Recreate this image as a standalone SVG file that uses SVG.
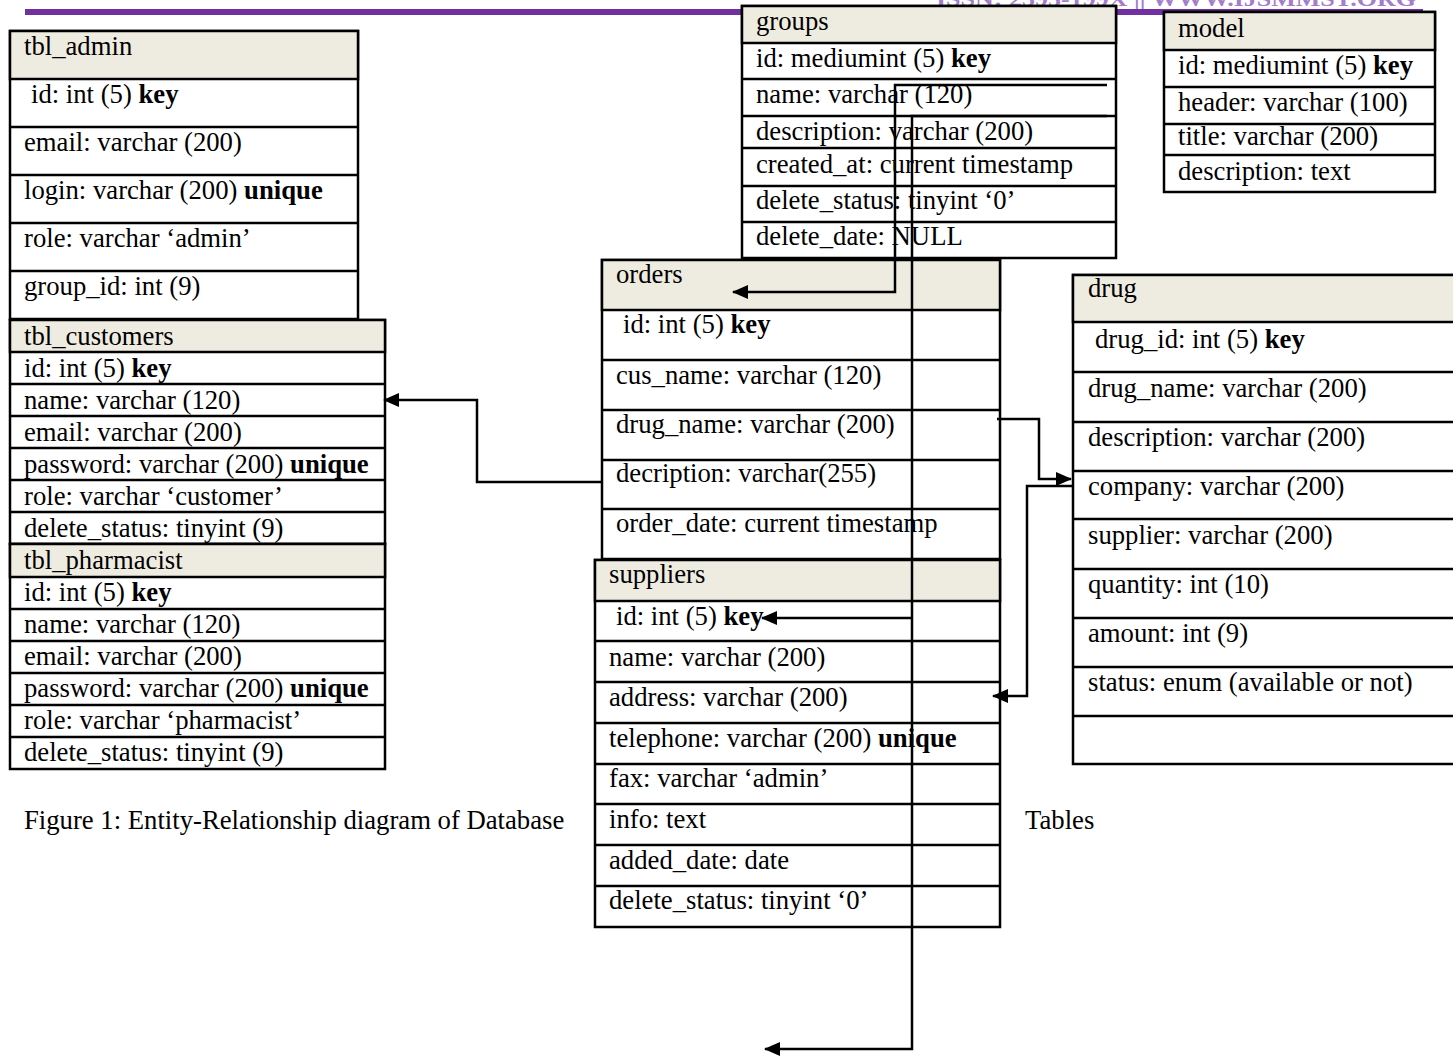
<svg xmlns="http://www.w3.org/2000/svg" width="1453" height="1056" viewBox="0 0 1453 1056">
<style>
.t{font-family:"Liberation Serif","Times New Roman",serif;font-size:26.7px;fill:#000}
.hd{fill:#EEECE1;stroke:#000;stroke-width:2.5}
.bx{fill:#fff;stroke:#000;stroke-width:2.5}
.sep{stroke:#000;stroke-width:2.5}
.cn{fill:none;stroke:#000;stroke-width:2.5}
.b{font-weight:bold}
</style>
<defs>
<marker id="ah" markerUnits="userSpaceOnUse" markerWidth="16" markerHeight="14" refX="15" refY="7" orient="auto">
<path d="M0,0 L16,7 L0,14 Z" fill="#000"/>
</marker>
</defs>
<rect width="1453" height="1056" fill="#fff"/>
<g id="page-header">
<text x="936" y="6" font-family="Liberation Serif,serif" font-size="20" font-weight="bold" fill="#A47DCB" textLength="480" lengthAdjust="spacingAndGlyphs">ISSN: 2395-199X || WWW.IJSMMST.ORG</text>
<rect x="25" y="9" width="1398" height="6" fill="#7030A0"/>
</g>

<g id="tbl_admin">
<rect class="bx" x="10" y="31" width="348" height="288"/>
<rect class="hd" x="10" y="31" width="348" height="48"/>
<path class="sep" d="M10,127H358M10,175H358M10,223H358M10,271H358"/>
<text class="t" x="24" y="55">tbl_admin</text>
<text class="t" x="31" y="103">id: int (5) <tspan class="b">key</tspan></text>
<text class="t" x="24" y="151">email: varchar (200)</text>
<text class="t" x="24" y="199">login: varchar (200) <tspan class="b">unique</tspan></text>
<text class="t" x="24" y="247">role: varchar ‘admin’</text>
<text class="t" x="24" y="295">group_id: int (9)</text>
</g>

<g id="tbl_customers">
<rect class="bx" x="10" y="320" width="375" height="224"/>
<rect class="hd" x="10" y="320" width="375" height="32"/>
<path class="sep" d="M10,384H385M10,416H385M10,448H385M10,480H385M10,512H385"/>
<text class="t" x="24" y="345">tbl_customers</text>
<text class="t" x="24" y="377">id: int (5) <tspan class="b">key</tspan></text>
<text class="t" x="24" y="409">name: varchar (120)</text>
<text class="t" x="24" y="441">email: varchar (200)</text>
<text class="t" x="24" y="473">password: varchar (200) <tspan class="b">unique</tspan></text>
<text class="t" x="24" y="505">role: varchar ‘customer’</text>
<text class="t" x="24" y="537">delete_status: tinyint (9)</text>
</g>

<g id="tbl_pharmacist">
<rect class="bx" x="10" y="544" width="375" height="225"/>
<rect class="hd" x="10" y="544" width="375" height="33"/>
<path class="sep" d="M10,609H385M10,641H385M10,673H385M10,705H385M10,737H385"/>
<text class="t" x="24" y="569">tbl_pharmacist</text>
<text class="t" x="24" y="601">id: int (5) <tspan class="b">key</tspan></text>
<text class="t" x="24" y="633">name: varchar (120)</text>
<text class="t" x="24" y="665">email: varchar (200)</text>
<text class="t" x="24" y="697">password: varchar (200) <tspan class="b">unique</tspan></text>
<text class="t" x="24" y="729">role: varchar ‘pharmacist’</text>
<text class="t" x="24" y="761">delete_status: tinyint (9)</text>
</g>

<g id="groups">
<rect class="bx" x="742" y="6" width="374" height="252"/>
<rect class="hd" x="742" y="6" width="374" height="37"/>
<path class="sep" d="M742,79H1116M742,116H1116M742,148H1116M742,186H1116M742,222H1116"/>
<text class="t" x="756" y="30">groups</text>
<text class="t" x="756" y="67">id: mediumint (5) <tspan class="b">key</tspan></text>
<text class="t" x="756" y="103">name: varchar (120)</text>
<text class="t" x="756" y="140">description: varchar (200)</text>
<text class="t" x="756" y="173">created_at: current timestamp</text>
<text class="t" x="756" y="209">delete_status: tinyint ‘0’</text>
<text class="t" x="756" y="245">delete_date: NULL</text>
</g>

<g id="model">
<rect class="bx" x="1164" y="12" width="271" height="180"/>
<rect class="hd" x="1164" y="12" width="271" height="38"/>
<path class="sep" d="M1164,87H1435M1164,124H1435M1164,155H1435"/>
<text class="t" x="1178" y="37">model</text>
<text class="t" x="1178" y="74">id: mediumint (5) <tspan class="b">key</tspan></text>
<text class="t" x="1178" y="111">header: varchar (100)</text>
<text class="t" x="1178" y="145">title: varchar (200)</text>
<text class="t" x="1178" y="180">description: text</text>
</g>

<g id="orders">
<rect class="bx" x="602" y="260" width="398" height="299"/>
<rect class="hd" x="602" y="260" width="398" height="50"/>
<path class="sep" d="M602,360H1000M602,410H1000M602,460H1000M602,509H1000"/>
<text class="t" x="616" y="283">orders</text>
<text class="t" x="623" y="333">id: int (5) <tspan class="b">key</tspan></text>
<text class="t" x="616" y="384">cus_name: varchar (120)</text>
<text class="t" x="616" y="433">drug_name: varchar (200)</text>
<text class="t" x="616" y="482">decription: varchar(255)</text>
<text class="t" x="616" y="532">order_date: current timestamp</text>
</g>

<g id="suppliers">
<rect class="bx" x="595" y="560" width="405" height="367"/>
<rect class="hd" x="595" y="560" width="405" height="41"/>
<path class="sep" d="M595,641H1000M595,682H1000M595,723H1000M595,764H1000M595,804H1000M595,845H1000M595,886H1000"/>
<text class="t" x="609" y="583">suppliers</text>
<text class="t" x="616" y="625">id: int (5) <tspan class="b">key</tspan></text>
<text class="t" x="609" y="666">name: varchar (200)</text>
<text class="t" x="609" y="706">address: varchar (200)</text>
<text class="t" x="609" y="747">telephone: varchar (200) <tspan class="b">unique</tspan></text>
<text class="t" x="609" y="787">fax: varchar ‘admin’</text>
<text class="t" x="609" y="828">info: text</text>
<text class="t" x="609" y="869">added_date: date</text>
<text class="t" x="609" y="909">delete_status: tinyint ‘0’</text>
</g>

<g id="drug">
<rect class="bx" x="1073" y="275" width="390" height="489"/>
<rect class="hd" x="1073" y="275" width="390" height="47"/>
<path class="sep" d="M1073,372H1463M1073,422H1463M1073,471H1463M1073,519H1463M1073,569H1463M1073,618H1463M1073,667H1463M1073,716H1463"/>
<text class="t" x="1088" y="297">drug</text>
<text class="t" x="1095" y="348">drug_id: int (5) <tspan class="b">key</tspan></text>
<text class="t" x="1088" y="397">drug_name: varchar (200)</text>
<text class="t" x="1088" y="446">description: varchar (200)</text>
<text class="t" x="1088" y="495">company: varchar (200)</text>
<text class="t" x="1088" y="544">supplier: varchar (200)</text>
<text class="t" x="1088" y="593">quantity: int (10)</text>
<text class="t" x="1088" y="642">amount: int (9)</text>
<text class="t" x="1088" y="691">status: enum (available or not)</text>
</g>

<g id="caption">
<text class="t" x="24" y="829">Figure 1: Entity-Relationship diagram of Database</text>
<text class="t" x="1025" y="829">Tables</text>
</g>

<g id="connectors">
<path class="cn" marker-end="url(#ah)" d="M602,482H477V400H384"/>
<path class="cn" marker-end="url(#ah)" d="M1107,85H895V292H733"/>
<path class="cn" marker-end="url(#ah)" d="M1107,116H912V1049H765"/>
<path class="cn" marker-end="url(#ah)" d="M912,618H762"/>
<path class="cn" marker-end="url(#ah)" d="M997,419H1039V479H1071"/>
<path class="cn" marker-end="url(#ah)" d="M1073,486H1027V696H993"/>
</g>
</svg>
